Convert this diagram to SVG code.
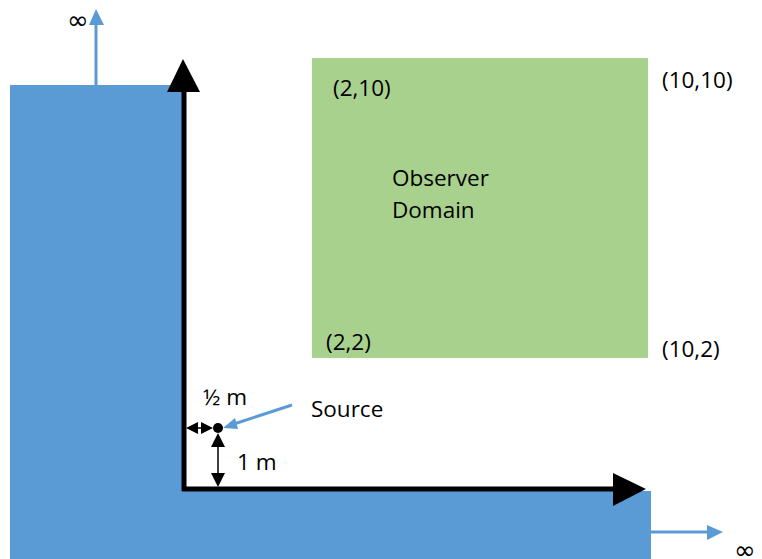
<svg xmlns="http://www.w3.org/2000/svg" width="762" height="559" viewBox="0 0 762 559">
<style>
text{font-family:"Open Sans","Liberation Sans",sans-serif;font-size:22.5px;fill:#000}
.inf{font-family:"DejaVu Sans",sans-serif;font-size:26px}
.blue{fill:#5B9BD5}
.bl{stroke:#5B9BD5;stroke-width:3;fill:none}
.k{stroke:#000;stroke-width:5;fill:none}
.t{stroke:#000;stroke-width:1.5;fill:none}
</style>
<rect width="762" height="559" fill="#fff"/>
<g id="wall">
<path class="blue" d="M10 85 H183 V491 H651 V559 H10 Z"/>
</g>
<g id="domain">
<rect x="312" y="58" width="336" height="300" fill="#A9D18E"/>
<text x="392" y="186">Observer</text>
<text x="392" y="218">Domain</text>
</g>
<g id="labels">
<text x="333" y="96">(2,10)</text>
<text x="662" y="88">(10,10)</text>
<text x="326" y="350">(2,2)</text>
<text x="662" y="357">(10,2)</text>
<text class="inf" x="67" y="29">∞</text>
<text class="inf" x="734" y="559">∞</text>
<text x="203" y="405">½ m</text>
<text x="237" y="470">1 m</text>
<text x="311" y="417">Source</text>
</g>
<g id="source">
<circle cx="218" cy="428" r="5" fill="#000"/>
</g>
<g id="connectors">
<line class="bl" x1="96" y1="85" x2="96" y2="24"/>
<polygon fill="#5B9BD5" points="96,9 89,25 104,25"/>
<line class="bl" x1="651" y1="532" x2="708" y2="532"/>
<polygon fill="#5B9BD5" points="723,532 707,525 707,540"/>
<line class="k" x1="184" y1="491" x2="184" y2="90"/>
<polygon fill="#000" points="183,59 167,92 200,92"/>
<line class="k" x1="182" y1="489" x2="615" y2="489"/>
<polygon fill="#000" points="646,489 613,473 613,506"/>
<line class="bl" x1="292" y1="405" x2="234" y2="424"/>
<polygon fill="#5B9BD5" points="223,428 235,418 238,429"/>
<line class="t" x1="192" y1="428" x2="208" y2="428"/>
<polygon fill="#000" points="186,428 198,422 198,434"/>
<polygon fill="#000" points="213,428 201,422 201,434"/>
<line class="t" x1="218" y1="445" x2="218" y2="476"/>
<polygon fill="#000" points="218,433 211,447 225,447"/>
<polygon fill="#000" points="218,487 211,473 225,473"/>
</g>
</svg>
